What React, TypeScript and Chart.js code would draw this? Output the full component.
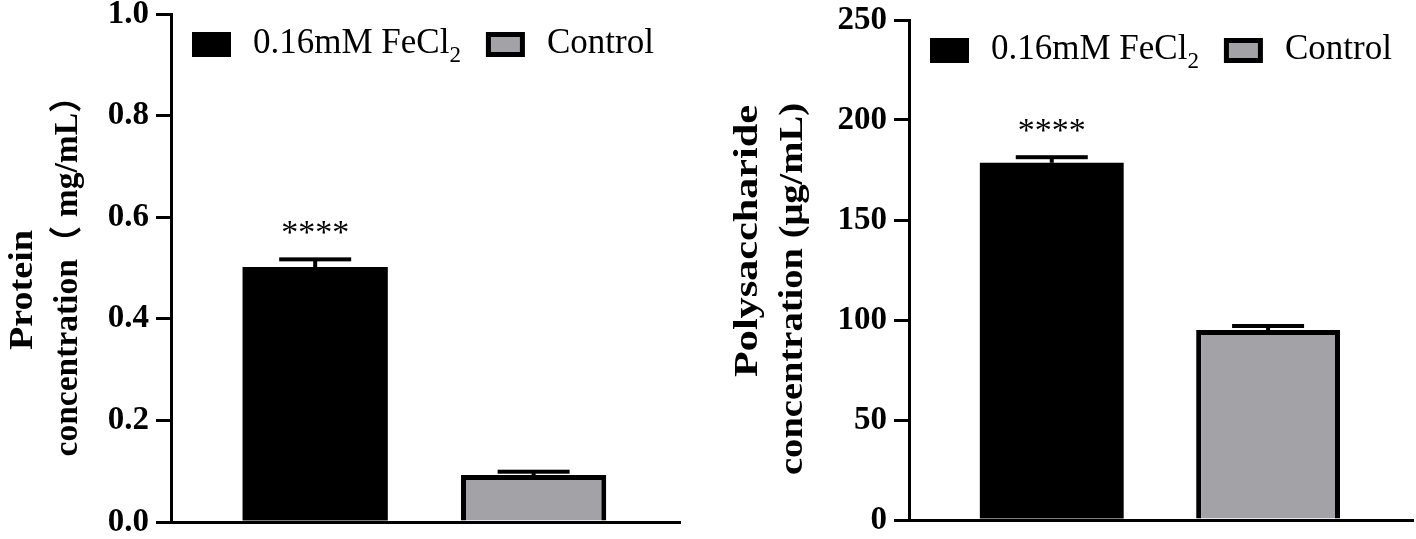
import React, { useEffect, useRef } from 'react';
import { Chart, registerables } from 'chart.js';

Chart.register(...registerables);

// ---------- data ----------
const seriesLabels = ['0.16mM FeCl₂', 'Control'];
const seriesFill = ['#000000', '#a3a2a7'];
const seriesBorder = [0, 5];
const barPositions = [1, 2];
const significance = ['****', ''];

const proteinMeans = [0.502, 0.0925];
const proteinErrors = [0.015, 0.0065];
const proteinTicks = [0, 0.2, 0.4, 0.6, 0.8, 1.0];

const polyMeans = [178.6, 95];
const polyErrors = [2.8, 2];
const polyTicks = [0, 50, 100, 150, 200, 250];

const FONT = "'Liberation Serif', 'Times New Roman', 'Noto Sans CJK SC', serif";

type TitleLine = { text: string; baseline: number; center: number; length: number };
type PanelSpec = {
  means: number[];
  errors: number[];
  ticks: number[];
  max: number;
  fmt: (v: number) => string;
  yAxisWidth: number;
  top: number;
  right: number;
  xAxisHeight: number;
  titles: TitleLine[];
};

const leftPanel: PanelSpec = {
  means: proteinMeans,
  errors: proteinErrors,
  ticks: proteinTicks,
  max: 1,
  fmt: (v) => v.toFixed(1),
  yAxisWidth: 171,
  top: 14,
  right: 28,
  xAxisHeight: 17,
  titles: [
    { text: 'Protein', baseline: 32, center: 290, length: 120 },
    { text: 'concentration（ mg/mL）', baseline: 77, center: 268, length: 377 },
  ],
};

const rightPanel: PanelSpec = {
  means: polyMeans,
  errors: polyErrors,
  ticks: polyTicks,
  max: 250,
  fmt: (v) => String(Math.round(v)),
  yAxisWidth: 201,
  top: 20,
  right: 3,
  xAxisHeight: 19,
  titles: [
    { text: 'Polysaccharide', baseline: 49, center: 241, length: 272 },
    { text: 'concentration (μg/mL)', baseline: 94, center: 289, length: 372 },
  ],
};

const decorPlugin = {
  id: 'panelDecor',
  afterDraw(chart: any, _args: any, opts: any) {
    const spec: PanelSpec = opts.spec;
    const ctx: CanvasRenderingContext2D = chart.ctx;
    const xs = chart.scales.x;
    const ys = chart.scales.y;
    const area = chart.chartArea;
    ctx.save();

    // error bars + significance
    spec.means.forEach((m, i) => {
      const cx = xs.getPixelForValue(barPositions[i]);
      const yTop = ys.getPixelForValue(m);
      const yCap = ys.getPixelForValue(m + spec.errors[i]);
      ctx.fillStyle = '#000';
      ctx.fillRect(cx - 2, yCap, 4, yTop - yCap);
      ctx.fillRect(cx - 36, yCap - 2, 72, 4);
      if (significance[i]) {
        ctx.font = `34px ${FONT}`;
        ctx.textAlign = 'center';
        ctx.textBaseline = 'alphabetic';
        ctx.fillText(significance[i], cx, yCap - 16);
      }
    });

    // legend
    let x = area.left + 21;
    const top = area.top + 18;
    seriesLabels.forEach((label, i) => {
      if (seriesBorder[i]) {
        ctx.fillStyle = '#000';
        ctx.fillRect(x, top, 39, 25);
        ctx.fillStyle = seriesFill[i];
        ctx.fillRect(x + 5, top + 5, 29, 15);
      } else {
        ctx.fillStyle = seriesFill[i];
        ctx.fillRect(x, top, 39, 25);
      }
      x += 61;
      ctx.fillStyle = '#000';
      ctx.textAlign = 'left';
      ctx.textBaseline = 'alphabetic';
      const subIdx = label.indexOf('₂');
      const main = subIdx >= 0 ? label.slice(0, subIdx) : label;
      ctx.font = `35px ${FONT}`;
      ctx.fillText(main, x, top + 21);
      x += ctx.measureText(main).width;
      if (subIdx >= 0) {
        ctx.font = `23px ${FONT}`;
        ctx.fillText('2', x, top + 30);
        x += ctx.measureText('2').width;
      }
      x += 25;
    });

    // y titles
    ctx.font = `bold 33px ${FONT}`;
    ctx.fillStyle = '#000';
    ctx.textAlign = 'center';
    ctx.textBaseline = 'alphabetic';
    spec.titles.forEach((t) => {
      const w = ctx.measureText(t.text).width;
      ctx.save();
      ctx.translate(t.baseline, t.center);
      ctx.rotate(-Math.PI / 2);
      ctx.scale(t.length / w, 1);
      ctx.fillText(t.text, 0, 0);
      ctx.restore();
    });

    ctx.restore();
  },
};

function buildConfig(spec: PanelSpec): any {
  return {
    type: 'bar',
    data: {
      datasets: seriesLabels.map((label, i) => ({
        label,
        data: [{ x: barPositions[i], y: spec.means[i] }],
        backgroundColor: seriesFill[i],
        borderColor: '#000000',
        borderWidth: seriesBorder[i],
        grouped: false,
        barPercentage: 1,
        categoryPercentage: 0.665,
      })),
    },
    options: {
      responsive: false,
      animation: false,
      events: [],
      layout: { padding: { top: spec.top, right: spec.right, left: 0, bottom: 0 } },
      plugins: {
        legend: { display: false },
        tooltip: { enabled: false },
        panelDecor: { spec },
      },
      scales: {
        x: {
          type: 'linear',
          offset: false,
          min: 0.34,
          max: 2.67,
          afterBuildTicks: (s: any) => {
            s.ticks = barPositions.map((v) => ({ value: v }));
          },
          ticks: { display: false },
          grid: { display: false, offset: false },
          border: { display: true, width: 3, color: '#000' },
          afterFit: (s: any) => {
            s.height = spec.xAxisHeight;
          },
        },
        y: {
          type: 'linear',
          min: 0,
          max: spec.max,
          afterBuildTicks: (s: any) => {
            s.ticks = spec.ticks.map((v) => ({ value: v }));
          },
          ticks: {
            color: '#000',
            padding: 7,
            font: { family: FONT, size: 33, weight: 'bold', lineHeight: 0.8 },
            callback: (v: number) => spec.fmt(v),
          },
          grid: {
            display: true,
            drawOnChartArea: false,
            drawTicks: true,
            tickLength: 15,
            lineWidth: 3,
            color: '#000',
          },
          border: { display: true, width: 3, color: '#000' },
          afterFit: (s: any) => {
            s.width = spec.yAxisWidth;
            s.paddingTop = 0;
            s.paddingBottom = 0;
          },
        },
      },
    },
    plugins: [decorPlugin],
  };
}

function ChartPanel({ spec, left }: { spec: PanelSpec; left: number }) {
  const ref = useRef<HTMLCanvasElement>(null);
  useEffect(() => {
    const chart = new Chart(ref.current as HTMLCanvasElement, buildConfig(spec));
    return () => chart.destroy();
  }, [spec]);
  return (
    <canvas
      ref={ref}
      width={708}
      height={539}
      style={{ position: 'absolute', left, top: 0, display: 'block', width: 708, height: 539 }}
    />
  );
}

export default function App() {
  return (
    <div
      style={{
        position: 'absolute',
        left: 0,
        top: 0,
        width: 1416,
        height: 539,
        overflow: 'hidden',
        background: '#ffffff',
      }}
    >
      <ChartPanel spec={leftPanel} left={0} />
      <ChartPanel spec={rightPanel} left={708} />
    </div>
  );
}
